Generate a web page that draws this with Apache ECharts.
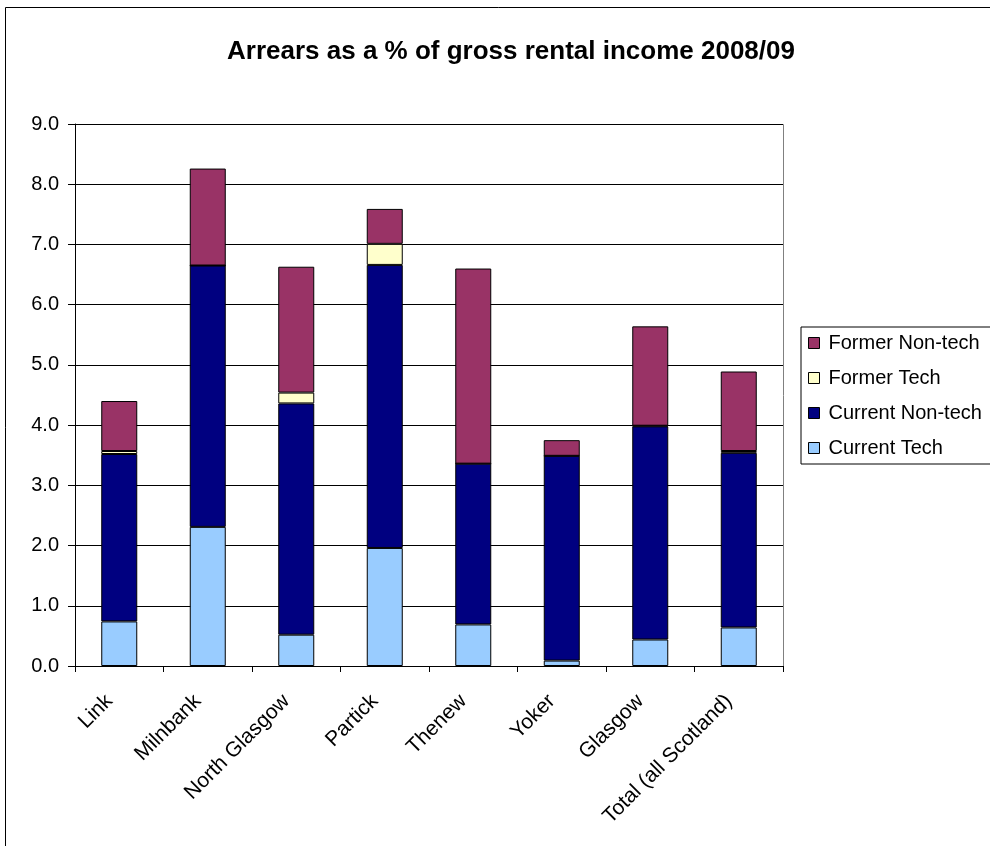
<!DOCTYPE html>
<html>
<head>
<meta charset="utf-8">
<script src="https://cdn.jsdelivr.net/npm/echarts@6/dist/echarts.min.js"></script>
<style>html,body{margin:0;padding:0;background:#fff;}#c{width:990px;height:846px;}</style>
</head>
<body>
<div id="c"></div>
<script>
const categories = ['Link', 'Milnbank', 'North Glasgow', 'Partick', 'Thenew', 'Yoker', 'Glasgow', 'Total (all Scotland)'];
const currentTech    = [0.74, 2.31, 0.52, 1.96, 0.69, 0.09, 0.44, 0.64];
const currentNonTech = [2.78, 4.34, 3.84, 4.70, 2.67, 3.40, 3.54, 2.90];
const formerTech     = [0.05, 0.00, 0.18, 0.35, 0.00, 0.00, 0.01, 0.03];
const formerNonTech  = [0.83, 1.61, 2.09, 0.58, 3.24, 0.26, 1.65, 1.32];
const yTicks = [0, 1, 2, 3, 4, 5, 6, 7, 8, 9];

const chart = echarts.init(document.getElementById('c'), null, {renderer: 'canvas'});
const font = 'Liberation Sans, Arial, sans-serif';
function bar(name, data, color) {
  return {
    name: name, type: 'bar', stack: 'a', data: data, barWidth: 36,
    itemStyle: {color: color, borderColor: '#000', borderWidth: 1},
    emphasis: {disabled: true}
  };
}
chart.setOption({
  animation: false,
  backgroundColor: '#fff',
  textStyle: {fontFamily: font},
  title: {
    text: 'Arrears as a % of gross rental income 2008/09',
    left: 506, top: 34, textAlign: 'center',
    textStyle: {fontSize: 26, fontWeight: 'bold', color: '#000', fontFamily: font}
  },
  graphic: [{
    type: 'rect', shape: {x: 5.5, y: 7.5, width: 1100, height: 1000},
    style: {fill: null, stroke: '#000', lineWidth: 1}, silent: true
  }, {
    type: 'rect', shape: {x: 75.5, y: 124.5, width: 708, height: 542},
    style: {fill: null, stroke: '#808080', lineWidth: 1}, silent: true, z: -1
  }],
  legend: {
    orient: 'vertical', left: 801, top: 327,
    data: ['Former Non-tech', 'Former Tech', 'Current Non-tech', 'Current Tech'],
    icon: 'rect',
    itemWidth: 11, itemHeight: 11, itemGap: 15,
    borderColor: '#000', borderWidth: 1, padding: [6, 40, 6, 7],
    itemStyle: {borderColor: '#000', borderWidth: 1},
    textStyle: {fontSize: 20, color: '#000', fontFamily: font, padding: [0, 0, 0, 4]},
    selectedMode: false
  },
  grid: {left: 75, right: 207, top: 124, bottom: 180, containLabel: false},
  xAxis: {
    type: 'category', data: categories,
    axisLine: {lineStyle: {color: '#000'}},
    axisTick: {show: true, alignWithLabel: false, length: 6, lineStyle: {color: '#000'}},
    axisLabel: {rotate: 45, fontSize: 21, color: '#000', margin: 22, interval: 0, fontFamily: font, padding: [0, 14, 0, 0]}
  },
  yAxis: {
    type: 'value', min: yTicks[0], max: yTicks[yTicks.length - 1], interval: 1,
    axisLine: {show: true, lineStyle: {color: '#000'}},
    axisTick: {show: true, length: 7, lineStyle: {color: '#000'}},
    axisLabel: {fontSize: 20, color: '#000', margin: 16, formatter: v => v.toFixed(1), fontFamily: font},
    splitLine: {show: true, lineStyle: {color: '#000', width: 1}}
  },
  series: [
    bar('Current Tech', currentTech, '#99CCFF'),
    bar('Current Non-tech', currentNonTech, '#000080'),
    bar('Former Tech', formerTech, '#FFFFCC'),
    bar('Former Non-tech', formerNonTech, '#993366')
  ]
});
</script>
</body>
</html>
